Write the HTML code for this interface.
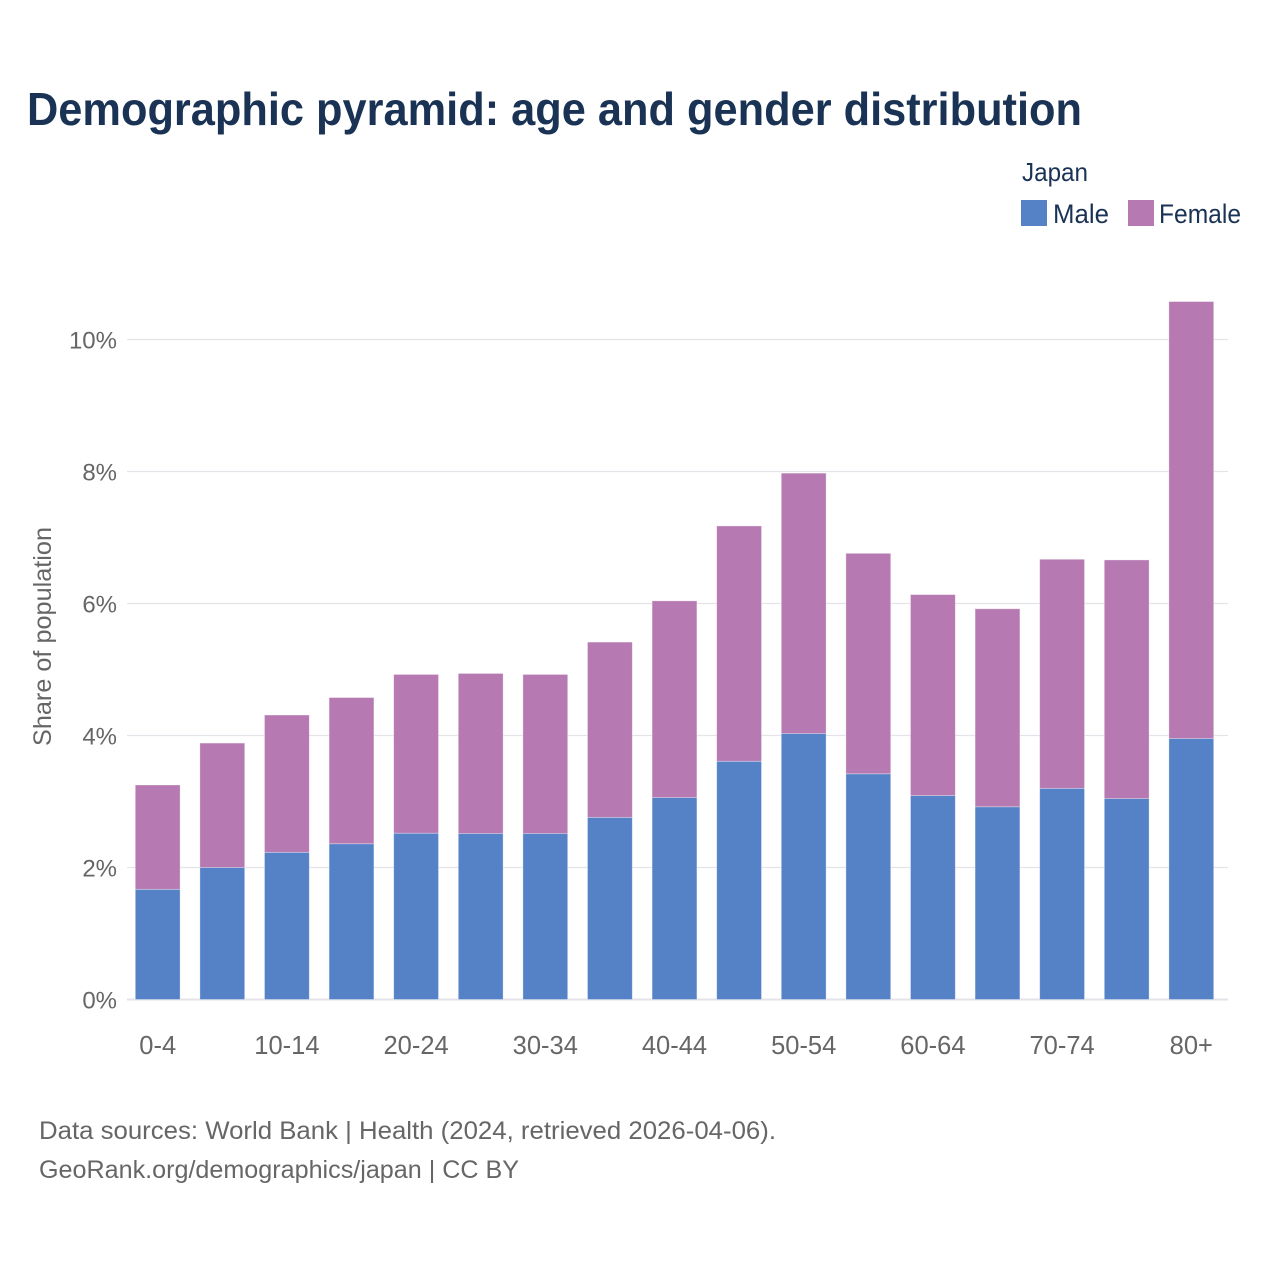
<!DOCTYPE html>
<html lang="en">
<head>
<meta charset="utf-8">
<title>Demographic pyramid: age and gender distribution</title>
<style>
html,body{margin:0;padding:0;background:#fff;width:1280px;height:1280px;overflow:hidden}
svg{display:block}
text{font-family:"Liberation Sans",sans-serif}
</style>
</head>
<body>
<svg id="chart" width="1280" height="1280" viewBox="0 0 1280 1280" xmlns="http://www.w3.org/2000/svg">
  <rect x="0" y="0" width="1280" height="1280" fill="#ffffff"/>
  <text x="27" y="125" font-size="46" font-weight="700" fill="#1a3355" textLength="1055" lengthAdjust="spacingAndGlyphs">Demographic pyramid: age and gender distribution</text>
  <text x="1022" y="181" font-size="26" fill="#1a3355" textLength="66" lengthAdjust="spacingAndGlyphs">Japan</text>
  <rect x="1021" y="200" width="26" height="26" fill="#5582c6"/>
  <text x="1053" y="223" font-size="27" fill="#1a3355" textLength="56" lengthAdjust="spacingAndGlyphs">Male</text>
  <rect x="1128" y="200" width="26" height="26" fill="#b679b1"/>
  <text x="1159" y="223" font-size="27" fill="#1a3355" textLength="82" lengthAdjust="spacingAndGlyphs">Female</text>
  <g id="grid"></g>
  <g id="bars"></g>
  <g id="y-ticks"></g>
  <g id="x-ticks"></g>
  <text transform="translate(51,636.5) rotate(-90)" text-anchor="middle" font-size="25" fill="#666666" textLength="219" lengthAdjust="spacingAndGlyphs">Share of population</text>
  <text x="39" y="1139" font-size="25" fill="#666666" textLength="737" lengthAdjust="spacingAndGlyphs">Data sources: World Bank | Health (2024, retrieved 2026-04-06).</text>
  <text x="39" y="1178" font-size="25" fill="#666666" textLength="480" lengthAdjust="spacingAndGlyphs">GeoRank.org/demographics/japan | CC BY</text>
</svg>
<script>
const categories = ["0-4","5-9","10-14","15-19","20-24","25-29","30-34","35-39","40-44","45-49","50-54","55-59","60-64","65-69","70-74","75-79","80+"];
const maleValues = [1.67,2.00,2.23,2.36,2.52,2.515,2.515,2.76,3.06,3.61,4.03,3.42,3.09,2.92,3.20,3.045,3.955];
const femaleValues = [1.58,1.885,2.08,2.215,2.405,2.425,2.41,2.655,2.98,3.565,3.945,3.34,3.045,3.00,3.47,3.615,6.62];
const yTickValues = [0,2,4,6,8,10];
const xTickLabels = ["0-4","10-14","20-24","30-34","40-44","50-54","60-64","70-74","80+"];

const SVG_NS = "http://www.w3.org/2000/svg";
const plotLeft = 127, plotRight = 1228;
const yZero = 999.5, pxPerPercent = 66;
const firstCenter = 157.7, step = 64.6, barWidth = 44.8;

function yScale(v) { return yZero - v * pxPerPercent; }
function xScale(category) { return firstCenter + categories.indexOf(category) * step; }

function make(tag, attrs) {
  const el = document.createElementNS(SVG_NS, tag);
  for (const k in attrs) el.setAttribute(k, attrs[k]);
  return el;
}

const grid = document.getElementById("grid");
const yTicks = document.getElementById("y-ticks");
yTickValues.forEach(function (t) {
  const line = make("line", { x1: plotLeft, x2: plotRight, y1: yScale(t), y2: yScale(t), stroke: "#e3e3e9", "stroke-width": t === 0 ? 2 : 1.2 });
  
  
  grid.appendChild(line);

  const label = make("text", { x: 117, y: yScale(t) + 9, "text-anchor": "end", "font-size": 24, fill: "#666666" });
  label.textContent = t + "%";
  
  
  yTicks.appendChild(label);
});

const bars = document.getElementById("bars");
categories.forEach(function (c, i) {
  const left = xScale(c) - barWidth / 2;
  const male = maleValues[i];
  const female = femaleValues[i];

  const maleBar = make("rect", { x: left, y: yScale(male), width: barWidth, height: yScale(0) - yScale(male), fill: "#5582c6", stroke: "#ffffff", "stroke-opacity": 0.4, "stroke-width": 0.8 });
  
  
  bars.appendChild(maleBar);

  const femaleBar = make("rect", { x: left, y: yScale(male + female), width: barWidth, height: yScale(male) - yScale(male + female), fill: "#b679b1", stroke: "#ffffff", "stroke-opacity": 0.4, "stroke-width": 0.8 });
  
  
  bars.appendChild(femaleBar);
});

const xTicks = document.getElementById("x-ticks");
xTickLabels.forEach(function (c) {
  const label = make("text", { x: xScale(c), y: 1054, "text-anchor": "middle", "font-size": 25.5, fill: "#666666" });
  label.textContent = c;
  
  
  xTicks.appendChild(label);
});
</script>
</body>
</html>
